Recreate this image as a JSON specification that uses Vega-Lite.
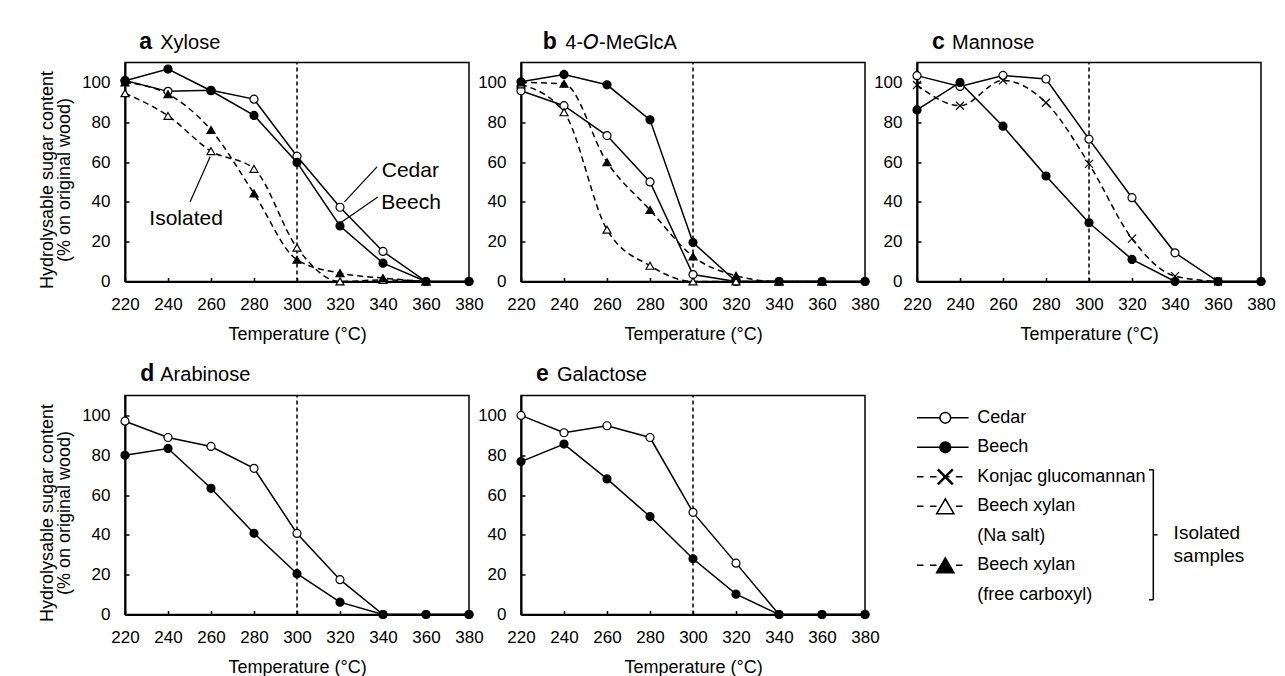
{
  "$schema": "https://vega.github.io/schema/vega-lite/v6.json",
  "background": "white",
  "padding": {"left": 37, "top": 29.5, "right": 5, "bottom": 5},
  "config": {
    "font": "Liberation Sans",
    "view": {"stroke": "black", "strokeWidth": 1.5},
    "axis": {"grid": false, "domainColor": "black", "domainWidth": 2, "tickColor": "black", "tickSize": -4, "tickWidth": 1.5, "labelColor": "black", "labelFontSize": 17, "labelFont": "Liberation Sans", "titleFont": "Liberation Sans", "titleColor": "black", "titleFontSize": 18, "titleFontWeight": "normal", "titleLineHeight": 17.6, "labelFlush": false, "labelOverlap": false, "labelBound": false},
    "axisX": {"labelPadding": 19, "titlePadding": 13},
    "axisY": {"labelPadding": 19, "titlePadding": 8, "titleY": 117}
  },
  "datasets": {
    "sugar": [
      {"panel": "a", "sample": "Cedar", "temp": 220, "value": 101},
      {"panel": "a", "sample": "Cedar", "temp": 240, "value": 95.5},
      {"panel": "a", "sample": "Cedar", "temp": 260, "value": 96},
      {"panel": "a", "sample": "Cedar", "temp": 280, "value": 91.6},
      {"panel": "a", "sample": "Cedar", "temp": 300, "value": 62.9},
      {"panel": "a", "sample": "Cedar", "temp": 320, "value": 37.3},
      {"panel": "a", "sample": "Cedar", "temp": 340, "value": 15.1},
      {"panel": "a", "sample": "Cedar", "temp": 360, "value": 0},
      {"panel": "a", "sample": "Cedar", "temp": 380, "value": 0},
      {"panel": "a", "sample": "Beech", "temp": 220, "value": 100.8},
      {"panel": "a", "sample": "Beech", "temp": 240, "value": 106.7},
      {"panel": "a", "sample": "Beech", "temp": 260, "value": 95.8},
      {"panel": "a", "sample": "Beech", "temp": 280, "value": 83.4},
      {"panel": "a", "sample": "Beech", "temp": 300, "value": 59.8},
      {"panel": "a", "sample": "Beech", "temp": 320, "value": 27.9},
      {"panel": "a", "sample": "Beech", "temp": 340, "value": 9.2},
      {"panel": "a", "sample": "Beech", "temp": 360, "value": 0},
      {"panel": "a", "sample": "Beech", "temp": 380, "value": 0},
      {"panel": "a", "sample": "Beech xylan (Na salt)", "temp": 220, "value": 94.6},
      {"panel": "a", "sample": "Beech xylan (Na salt)", "temp": 240, "value": 83.2},
      {"panel": "a", "sample": "Beech xylan (Na salt)", "temp": 260, "value": 65.5},
      {"panel": "a", "sample": "Beech xylan (Na salt)", "temp": 280, "value": 56.6},
      {"panel": "a", "sample": "Beech xylan (Na salt)", "temp": 300, "value": 17},
      {"panel": "a", "sample": "Beech xylan (Na salt)", "temp": 320, "value": 0},
      {"panel": "a", "sample": "Beech xylan (Na salt)", "temp": 340, "value": 0.8},
      {"panel": "a", "sample": "Beech xylan (Na salt)", "temp": 360, "value": 0},
      {"panel": "a", "sample": "Beech xylan (free carboxyl)", "temp": 220, "value": 100},
      {"panel": "a", "sample": "Beech xylan (free carboxyl)", "temp": 240, "value": 94.1},
      {"panel": "a", "sample": "Beech xylan (free carboxyl)", "temp": 260, "value": 76.1},
      {"panel": "a", "sample": "Beech xylan (free carboxyl)", "temp": 280, "value": 44.2},
      {"panel": "a", "sample": "Beech xylan (free carboxyl)", "temp": 300, "value": 10.9},
      {"panel": "a", "sample": "Beech xylan (free carboxyl)", "temp": 320, "value": 4.2},
      {"panel": "a", "sample": "Beech xylan (free carboxyl)", "temp": 340, "value": 1.7},
      {"panel": "a", "sample": "Beech xylan (free carboxyl)", "temp": 360, "value": 0},
      {"panel": "b", "sample": "Cedar", "temp": 220, "value": 95.8},
      {"panel": "b", "sample": "Cedar", "temp": 240, "value": 88.3},
      {"panel": "b", "sample": "Cedar", "temp": 260, "value": 73.3},
      {"panel": "b", "sample": "Cedar", "temp": 280, "value": 50},
      {"panel": "b", "sample": "Cedar", "temp": 300, "value": 3.5},
      {"panel": "b", "sample": "Cedar", "temp": 320, "value": 0},
      {"panel": "b", "sample": "Cedar", "temp": 340, "value": 0},
      {"panel": "b", "sample": "Cedar", "temp": 360, "value": 0},
      {"panel": "b", "sample": "Cedar", "temp": 380, "value": 0},
      {"panel": "b", "sample": "Beech", "temp": 220, "value": 100.3},
      {"panel": "b", "sample": "Beech", "temp": 240, "value": 104},
      {"panel": "b", "sample": "Beech", "temp": 260, "value": 98.8},
      {"panel": "b", "sample": "Beech", "temp": 280, "value": 81.2},
      {"panel": "b", "sample": "Beech", "temp": 300, "value": 19.6},
      {"panel": "b", "sample": "Beech", "temp": 320, "value": 0},
      {"panel": "b", "sample": "Beech", "temp": 340, "value": 0},
      {"panel": "b", "sample": "Beech", "temp": 360, "value": 0},
      {"panel": "b", "sample": "Beech", "temp": 380, "value": 0},
      {"panel": "b", "sample": "Beech xylan (Na salt)", "temp": 220, "value": 99},
      {"panel": "b", "sample": "Beech xylan (Na salt)", "temp": 240, "value": 85},
      {"panel": "b", "sample": "Beech xylan (Na salt)", "temp": 260, "value": 26},
      {"panel": "b", "sample": "Beech xylan (Na salt)", "temp": 280, "value": 7.9},
      {"panel": "b", "sample": "Beech xylan (Na salt)", "temp": 300, "value": 0},
      {"panel": "b", "sample": "Beech xylan (Na salt)", "temp": 320, "value": 0},
      {"panel": "b", "sample": "Beech xylan (Na salt)", "temp": 340, "value": 0},
      {"panel": "b", "sample": "Beech xylan (Na salt)", "temp": 360, "value": 0},
      {"panel": "b", "sample": "Beech xylan (free carboxyl)", "temp": 220, "value": 100},
      {"panel": "b", "sample": "Beech xylan (free carboxyl)", "temp": 240, "value": 99.3},
      {"panel": "b", "sample": "Beech xylan (free carboxyl)", "temp": 260, "value": 59.9},
      {"panel": "b", "sample": "Beech xylan (free carboxyl)", "temp": 280, "value": 35.9},
      {"panel": "b", "sample": "Beech xylan (free carboxyl)", "temp": 300, "value": 12.6},
      {"panel": "b", "sample": "Beech xylan (free carboxyl)", "temp": 320, "value": 2.9},
      {"panel": "b", "sample": "Beech xylan (free carboxyl)", "temp": 340, "value": 0},
      {"panel": "b", "sample": "Beech xylan (free carboxyl)", "temp": 360, "value": 0},
      {"panel": "c", "sample": "Cedar", "temp": 220, "value": 103.4},
      {"panel": "c", "sample": "Cedar", "temp": 240, "value": 98},
      {"panel": "c", "sample": "Cedar", "temp": 260, "value": 103.5},
      {"panel": "c", "sample": "Cedar", "temp": 280, "value": 101.7},
      {"panel": "c", "sample": "Cedar", "temp": 300, "value": 71.5},
      {"panel": "c", "sample": "Cedar", "temp": 320, "value": 42.1},
      {"panel": "c", "sample": "Cedar", "temp": 340, "value": 14.4},
      {"panel": "c", "sample": "Cedar", "temp": 360, "value": 0},
      {"panel": "c", "sample": "Cedar", "temp": 380, "value": 0},
      {"panel": "c", "sample": "Beech", "temp": 220, "value": 86.2},
      {"panel": "c", "sample": "Beech", "temp": 240, "value": 100},
      {"panel": "c", "sample": "Beech", "temp": 260, "value": 78},
      {"panel": "c", "sample": "Beech", "temp": 280, "value": 53},
      {"panel": "c", "sample": "Beech", "temp": 300, "value": 29.5},
      {"panel": "c", "sample": "Beech", "temp": 320, "value": 11.1},
      {"panel": "c", "sample": "Beech", "temp": 340, "value": 0},
      {"panel": "c", "sample": "Beech", "temp": 360, "value": 0},
      {"panel": "c", "sample": "Beech", "temp": 380, "value": 0},
      {"panel": "c", "sample": "Konjac glucomannan", "temp": 220, "value": 98.7},
      {"panel": "c", "sample": "Konjac glucomannan", "temp": 240, "value": 88.3},
      {"panel": "c", "sample": "Konjac glucomannan", "temp": 260, "value": 101},
      {"panel": "c", "sample": "Konjac glucomannan", "temp": 280, "value": 89.8},
      {"panel": "c", "sample": "Konjac glucomannan", "temp": 300, "value": 59.1},
      {"panel": "c", "sample": "Konjac glucomannan", "temp": 320, "value": 21.5},
      {"panel": "c", "sample": "Konjac glucomannan", "temp": 340, "value": 2.7},
      {"panel": "c", "sample": "Konjac glucomannan", "temp": 360, "value": 0},
      {"panel": "d", "sample": "Cedar", "temp": 220, "value": 97.1},
      {"panel": "d", "sample": "Cedar", "temp": 240, "value": 88.9},
      {"panel": "d", "sample": "Cedar", "temp": 260, "value": 84.4},
      {"panel": "d", "sample": "Cedar", "temp": 280, "value": 73.4},
      {"panel": "d", "sample": "Cedar", "temp": 300, "value": 40.7},
      {"panel": "d", "sample": "Cedar", "temp": 320, "value": 17.5},
      {"panel": "d", "sample": "Cedar", "temp": 340, "value": 0},
      {"panel": "d", "sample": "Cedar", "temp": 360, "value": 0},
      {"panel": "d", "sample": "Cedar", "temp": 380, "value": 0},
      {"panel": "d", "sample": "Beech", "temp": 220, "value": 80},
      {"panel": "d", "sample": "Beech", "temp": 240, "value": 83.4},
      {"panel": "d", "sample": "Beech", "temp": 260, "value": 63.4},
      {"panel": "d", "sample": "Beech", "temp": 280, "value": 40.8},
      {"panel": "d", "sample": "Beech", "temp": 300, "value": 20.5},
      {"panel": "d", "sample": "Beech", "temp": 320, "value": 6.2},
      {"panel": "d", "sample": "Beech", "temp": 340, "value": 0},
      {"panel": "d", "sample": "Beech", "temp": 360, "value": 0},
      {"panel": "d", "sample": "Beech", "temp": 380, "value": 0},
      {"panel": "e", "sample": "Cedar", "temp": 220, "value": 100},
      {"panel": "e", "sample": "Cedar", "temp": 240, "value": 91.3},
      {"panel": "e", "sample": "Cedar", "temp": 260, "value": 94.8},
      {"panel": "e", "sample": "Cedar", "temp": 280, "value": 88.9},
      {"panel": "e", "sample": "Cedar", "temp": 300, "value": 51.3},
      {"panel": "e", "sample": "Cedar", "temp": 320, "value": 25.8},
      {"panel": "e", "sample": "Cedar", "temp": 340, "value": 0},
      {"panel": "e", "sample": "Cedar", "temp": 360, "value": 0},
      {"panel": "e", "sample": "Cedar", "temp": 380, "value": 0},
      {"panel": "e", "sample": "Beech", "temp": 220, "value": 76.8},
      {"panel": "e", "sample": "Beech", "temp": 240, "value": 85.6},
      {"panel": "e", "sample": "Beech", "temp": 260, "value": 68.1},
      {"panel": "e", "sample": "Beech", "temp": 280, "value": 49.2},
      {"panel": "e", "sample": "Beech", "temp": 300, "value": 28},
      {"panel": "e", "sample": "Beech", "temp": 320, "value": 10.2},
      {"panel": "e", "sample": "Beech", "temp": 340, "value": 0},
      {"panel": "e", "sample": "Beech", "temp": 360, "value": 0},
      {"panel": "e", "sample": "Beech", "temp": 380, "value": 0}
    ],
    "notes": [
      {"text": "Cedar", "temp": 339.4, "value": 55.5},
      {"text": "Beech", "temp": 339.2, "value": 39.2},
      {"text": "Isolated", "temp": 231.3, "value": 31.3}
    ],
    "leaders": [
      {"temp": 337.2, "value": 57.6, "temp2": 322.1, "value2": 40},
      {"temp": 337.6, "value": 42.5, "temp2": 320.1, "value2": 29.4},
      {"temp": 250.3, "value": 40, "temp2": 259.6, "value2": 62.7}
    ],
    "legendSymbols": [
      {"sample": "Cedar", "order": 1},
      {"sample": "Beech", "order": 2},
      {"sample": "Konjac glucomannan", "order": 3},
      {"sample": "Beech xylan (Na salt)", "order": 4},
      {"sample": "Beech xylan (free carboxyl)", "order": 6}
    ],
    "legendLabels": [
      {"label": "Cedar", "order": 1},
      {"label": "Beech", "order": 2},
      {"label": "Konjac glucomannan", "order": 3},
      {"label": "Beech xylan", "order": 4},
      {"label": "(Na salt)", "order": 5},
      {"label": "Beech xylan", "order": 6},
      {"label": "(free carboxyl)", "order": 7}
    ]
  },
  "vconcat": [
    {
      "hconcat": [
        {
          "width": 344, "height": 219,
          "layer": [
            {"data": {"values": [{}]}, "mark": {"type": "rule", "color": "black", "strokeWidth": 1.5, "strokeDash": [4, 3]},
             "encoding": {"x": {"datum": 300, "type": "quantitative", "scale": {"domain": [220, 380], "nice": false, "zero": false}, "axis": {"values": [220, 240, 260, 280, 300, 320, 340, 360, 380], "title": "Temperature (°C)"}}, "y": {"datum": 0, "type": "quantitative", "scale": {"domain": [0, 110], "nice": false}, "axis": {"values": [0, 20, 40, 60, 80, 100], "title": ["Hydrolysable sugar content", "(% on original wood)"]}}, "y2": {"datum": 110}}},
            {
              "encoding": {
                "x": {"field": "temp", "type": "quantitative", "scale": {"domain": [220, 380], "nice": false, "zero": false}, "axis": {"values": [220, 240, 260, 280, 300, 320, 340, 360, 380], "title": "Temperature (°C)"}},
                "y": {"field": "value", "type": "quantitative", "scale": {"domain": [0, 110], "nice": false}, "axis": {"values": [0, 20, 40, 60, 80, 100], "title": ["Hydrolysable sugar content", "(% on original wood)"]}}
              },
              "layer": [
                {"data": {"name": "sugar"}, "transform": [{"filter": "datum.panel === 'a' && (datum.sample === 'Cedar' || datum.sample === 'Beech')"}], "mark": {"type": "line", "color": "black", "strokeWidth": 1.5}, "encoding": {"detail": {"field": "sample"}}},
                {"data": {"name": "sugar"}, "transform": [{"filter": "datum.panel === 'a' && datum.sample !== 'Cedar' && datum.sample !== 'Beech'"}], "mark": {"type": "line", "color": "black", "strokeWidth": 1.5, "strokeDash": [6, 4], "interpolate": "monotone"}, "encoding": {"detail": {"field": "sample"}}},
                {"data": {"name": "sugar"}, "transform": [{"filter": "datum.panel === 'a'"}], "mark": {"type": "point", "filled": true, "stroke": "black", "strokeWidth": 1.2, "opacity": 1},
                 "encoding": {
                   "shape": {"field": "sample", "type": "nominal", "scale": {"domain": ["Cedar", "Beech", "Konjac glucomannan", "Beech xylan (Na salt)", "Beech xylan (free carboxyl)"], "range": ["circle", "circle", "M-1,-1L1,1M-1,1L1,-1", "triangle-up", "triangle-up"]}, "legend": null},
                   "fill": {"field": "sample", "type": "nominal", "scale": {"domain": ["Cedar", "Beech", "Konjac glucomannan", "Beech xylan (Na salt)", "Beech xylan (free carboxyl)"], "range": ["white", "black", "transparent", "white", "black"]}, "legend": null},
                   "size": {"field": "sample", "type": "nominal", "scale": {"domain": ["Cedar", "Beech", "Konjac glucomannan", "Beech xylan (Na salt)", "Beech xylan (free carboxyl)"], "range": [64, 64, 100, 70, 70]}, "legend": null}
                 }},
                {"data": {"name": "notes"}, "mark": {"type": "text", "align": "left", "baseline": "middle", "fontSize": 21, "color": "black"}, "encoding": {"text": {"field": "text"}}},
                {"data": {"name": "leaders"}, "mark": {"type": "rule", "color": "black", "strokeWidth": 1.2}, "encoding": {"x2": {"field": "temp2"}, "y2": {"field": "value2"}}}
              ]
            },
            {"data": {"values": [{}]}, "mark": {"type": "text", "text": "a", "align": "left", "baseline": "alphabetic", "fontSize": 23, "fontWeight": "bold", "color": "black"},
             "encoding": {"x": {"datum": 226.65, "type": "quantitative", "axis": {"values": [220, 240, 260, 280, 300, 320, 340, 360, 380], "title": "Temperature (°C)"}}, "y": {"datum": 116.7, "type": "quantitative", "axis": {"values": [0, 20, 40, 60, 80, 100], "title": ["Hydrolysable sugar content", "(% on original wood)"]}}}},
            {"data": {"values": [{}]}, "mark": {"type": "text", "text": "Xylose", "align": "left", "baseline": "alphabetic", "fontSize": 20, "color": "black"},
             "encoding": {"x": {"datum": 236.4, "type": "quantitative", "axis": {"values": [220, 240, 260, 280, 300, 320, 340, 360, 380], "title": "Temperature (°C)"}}, "y": {"datum": 116.7, "type": "quantitative", "axis": {"values": [0, 20, 40, 60, 80, 100], "title": ["Hydrolysable sugar content", "(% on original wood)"]}}}}
          ]
        },
        {
          "width": 344, "height": 219,
          "layer": [
            {"data": {"values": [{}]}, "mark": {"type": "rule", "color": "black", "strokeWidth": 1.5, "strokeDash": [4, 3]},
             "encoding": {"x": {"datum": 300, "type": "quantitative", "scale": {"domain": [220, 380], "nice": false, "zero": false}, "axis": {"values": [220, 240, 260, 280, 300, 320, 340, 360, 380], "title": "Temperature (°C)"}}, "y": {"datum": 0, "type": "quantitative", "scale": {"domain": [0, 110], "nice": false}, "axis": {"values": [0, 20, 40, 60, 80, 100], "title": null}}, "y2": {"datum": 110}}},
            {
              "encoding": {
                "x": {"field": "temp", "type": "quantitative", "scale": {"domain": [220, 380], "nice": false, "zero": false}, "axis": {"values": [220, 240, 260, 280, 300, 320, 340, 360, 380], "title": "Temperature (°C)"}},
                "y": {"field": "value", "type": "quantitative", "scale": {"domain": [0, 110], "nice": false}, "axis": {"values": [0, 20, 40, 60, 80, 100], "title": null}}
              },
              "layer": [
                {"data": {"name": "sugar"}, "transform": [{"filter": "datum.panel === 'b' && (datum.sample === 'Cedar' || datum.sample === 'Beech')"}], "mark": {"type": "line", "color": "black", "strokeWidth": 1.5}, "encoding": {"detail": {"field": "sample"}}},
                {"data": {"name": "sugar"}, "transform": [{"filter": "datum.panel === 'b' && datum.sample !== 'Cedar' && datum.sample !== 'Beech'"}], "mark": {"type": "line", "color": "black", "strokeWidth": 1.5, "strokeDash": [6, 4], "interpolate": "monotone"}, "encoding": {"detail": {"field": "sample"}}},
                {"data": {"name": "sugar"}, "transform": [{"filter": "datum.panel === 'b'"}], "mark": {"type": "point", "filled": true, "stroke": "black", "strokeWidth": 1.2, "opacity": 1},
                 "encoding": {
                   "shape": {"field": "sample", "type": "nominal", "scale": {"domain": ["Cedar", "Beech", "Konjac glucomannan", "Beech xylan (Na salt)", "Beech xylan (free carboxyl)"], "range": ["circle", "circle", "M-1,-1L1,1M-1,1L1,-1", "triangle-up", "triangle-up"]}, "legend": null},
                   "fill": {"field": "sample", "type": "nominal", "scale": {"domain": ["Cedar", "Beech", "Konjac glucomannan", "Beech xylan (Na salt)", "Beech xylan (free carboxyl)"], "range": ["white", "black", "transparent", "white", "black"]}, "legend": null},
                   "size": {"field": "sample", "type": "nominal", "scale": {"domain": ["Cedar", "Beech", "Konjac glucomannan", "Beech xylan (Na salt)", "Beech xylan (free carboxyl)"], "range": [64, 64, 100, 70, 70]}, "legend": null}
                 }}
              ]
            },
            {"data": {"values": [{}]}, "mark": {"type": "text", "text": "b", "align": "left", "baseline": "alphabetic", "fontSize": 23, "fontWeight": "bold", "color": "black"},
             "encoding": {"x": {"datum": 230.1, "type": "quantitative", "axis": {"values": [220, 240, 260, 280, 300, 320, 340, 360, 380], "title": "Temperature (°C)"}}, "y": {"datum": 116.7, "type": "quantitative", "axis": {"values": [0, 20, 40, 60, 80, 100], "title": null}}}},
            {"data": {"values": [{}]}, "mark": {"type": "text", "text": "4-𝘖-MeGlcA", "align": "left", "baseline": "alphabetic", "fontSize": 20, "color": "black"},
             "encoding": {"x": {"datum": 240.6, "type": "quantitative", "axis": {"values": [220, 240, 260, 280, 300, 320, 340, 360, 380], "title": "Temperature (°C)"}}, "y": {"datum": 116.7, "type": "quantitative", "axis": {"values": [0, 20, 40, 60, 80, 100], "title": null}}}}
          ]
        },
        {
          "width": 344, "height": 219,
          "layer": [
            {"data": {"values": [{}]}, "mark": {"type": "rule", "color": "black", "strokeWidth": 1.5, "strokeDash": [4, 3]},
             "encoding": {"x": {"datum": 300, "type": "quantitative", "scale": {"domain": [220, 380], "nice": false, "zero": false}, "axis": {"values": [220, 240, 260, 280, 300, 320, 340, 360, 380], "title": "Temperature (°C)"}}, "y": {"datum": 0, "type": "quantitative", "scale": {"domain": [0, 110], "nice": false}, "axis": {"values": [0, 20, 40, 60, 80, 100], "title": null}}, "y2": {"datum": 110}}},
            {
              "encoding": {
                "x": {"field": "temp", "type": "quantitative", "scale": {"domain": [220, 380], "nice": false, "zero": false}, "axis": {"values": [220, 240, 260, 280, 300, 320, 340, 360, 380], "title": "Temperature (°C)"}},
                "y": {"field": "value", "type": "quantitative", "scale": {"domain": [0, 110], "nice": false}, "axis": {"values": [0, 20, 40, 60, 80, 100], "title": null}}
              },
              "layer": [
                {"data": {"name": "sugar"}, "transform": [{"filter": "datum.panel === 'c' && (datum.sample === 'Cedar' || datum.sample === 'Beech')"}], "mark": {"type": "line", "color": "black", "strokeWidth": 1.5}, "encoding": {"detail": {"field": "sample"}}},
                {"data": {"name": "sugar"}, "transform": [{"filter": "datum.panel === 'c' && datum.sample !== 'Cedar' && datum.sample !== 'Beech'"}], "mark": {"type": "line", "color": "black", "strokeWidth": 1.5, "strokeDash": [6, 4], "interpolate": "monotone"}, "encoding": {"detail": {"field": "sample"}}},
                {"data": {"name": "sugar"}, "transform": [{"filter": "datum.panel === 'c'"}], "mark": {"type": "point", "filled": true, "stroke": "black", "strokeWidth": 1.2, "opacity": 1},
                 "encoding": {
                   "shape": {"field": "sample", "type": "nominal", "scale": {"domain": ["Cedar", "Beech", "Konjac glucomannan", "Beech xylan (Na salt)", "Beech xylan (free carboxyl)"], "range": ["circle", "circle", "M-1,-1L1,1M-1,1L1,-1", "triangle-up", "triangle-up"]}, "legend": null},
                   "fill": {"field": "sample", "type": "nominal", "scale": {"domain": ["Cedar", "Beech", "Konjac glucomannan", "Beech xylan (Na salt)", "Beech xylan (free carboxyl)"], "range": ["white", "black", "transparent", "white", "black"]}, "legend": null},
                   "size": {"field": "sample", "type": "nominal", "scale": {"domain": ["Cedar", "Beech", "Konjac glucomannan", "Beech xylan (Na salt)", "Beech xylan (free carboxyl)"], "range": [64, 64, 100, 70, 70]}, "legend": null}
                 }}
              ]
            },
            {"data": {"values": [{}]}, "mark": {"type": "text", "text": "c", "align": "left", "baseline": "alphabetic", "fontSize": 23, "fontWeight": "bold", "color": "black"},
             "encoding": {"x": {"datum": 227, "type": "quantitative", "axis": {"values": [220, 240, 260, 280, 300, 320, 340, 360, 380], "title": "Temperature (°C)"}}, "y": {"datum": 116.7, "type": "quantitative", "axis": {"values": [0, 20, 40, 60, 80, 100], "title": null}}}},
            {"data": {"values": [{}]}, "mark": {"type": "text", "text": "Mannose", "align": "left", "baseline": "alphabetic", "fontSize": 20, "color": "black"},
             "encoding": {"x": {"datum": 236.3, "type": "quantitative", "axis": {"values": [220, 240, 260, 280, 300, 320, 340, 360, 380], "title": "Temperature (°C)"}}, "y": {"datum": 116.7, "type": "quantitative", "axis": {"values": [0, 20, 40, 60, 80, 100], "title": null}}}}
          ]
        }
      ],
      "spacing": 52,
      "bounds": "flush"
    },
    {
      "hconcat": [
        {
          "width": 344, "height": 219,
          "layer": [
            {"data": {"values": [{}]}, "mark": {"type": "rule", "color": "black", "strokeWidth": 1.5, "strokeDash": [4, 3]},
             "encoding": {"x": {"datum": 300, "type": "quantitative", "scale": {"domain": [220, 380], "nice": false, "zero": false}, "axis": {"values": [220, 240, 260, 280, 300, 320, 340, 360, 380], "title": "Temperature (°C)"}}, "y": {"datum": 0, "type": "quantitative", "scale": {"domain": [0, 110], "nice": false}, "axis": {"values": [0, 20, 40, 60, 80, 100], "title": ["Hydrolysable sugar content", "(% on original wood)"]}}, "y2": {"datum": 110}}},
            {
              "encoding": {
                "x": {"field": "temp", "type": "quantitative", "scale": {"domain": [220, 380], "nice": false, "zero": false}, "axis": {"values": [220, 240, 260, 280, 300, 320, 340, 360, 380], "title": "Temperature (°C)"}},
                "y": {"field": "value", "type": "quantitative", "scale": {"domain": [0, 110], "nice": false}, "axis": {"values": [0, 20, 40, 60, 80, 100], "title": ["Hydrolysable sugar content", "(% on original wood)"]}}
              },
              "layer": [
                {"data": {"name": "sugar"}, "transform": [{"filter": "datum.panel === 'd'"}], "mark": {"type": "line", "color": "black", "strokeWidth": 1.5}, "encoding": {"detail": {"field": "sample"}}},
                {"data": {"name": "sugar"}, "transform": [{"filter": "datum.panel === 'd'"}], "mark": {"type": "point", "filled": true, "stroke": "black", "strokeWidth": 1.2, "opacity": 1},
                 "encoding": {
                   "shape": {"field": "sample", "type": "nominal", "scale": {"domain": ["Cedar", "Beech", "Konjac glucomannan", "Beech xylan (Na salt)", "Beech xylan (free carboxyl)"], "range": ["circle", "circle", "M-1,-1L1,1M-1,1L1,-1", "triangle-up", "triangle-up"]}, "legend": null},
                   "fill": {"field": "sample", "type": "nominal", "scale": {"domain": ["Cedar", "Beech", "Konjac glucomannan", "Beech xylan (Na salt)", "Beech xylan (free carboxyl)"], "range": ["white", "black", "transparent", "white", "black"]}, "legend": null},
                   "size": {"field": "sample", "type": "nominal", "scale": {"domain": ["Cedar", "Beech", "Konjac glucomannan", "Beech xylan (Na salt)", "Beech xylan (free carboxyl)"], "range": [64, 64, 100, 70, 70]}, "legend": null}
                 }}
              ]
            },
            {"data": {"values": [{}]}, "mark": {"type": "text", "text": "d", "align": "left", "baseline": "alphabetic", "fontSize": 23, "fontWeight": "bold", "color": "black"},
             "encoding": {"x": {"datum": 227.1, "type": "quantitative", "axis": {"values": [220, 240, 260, 280, 300, 320, 340, 360, 380], "title": "Temperature (°C)"}}, "y": {"datum": 117.5, "type": "quantitative", "axis": {"values": [0, 20, 40, 60, 80, 100], "title": ["Hydrolysable sugar content", "(% on original wood)"]}}}},
            {"data": {"values": [{}]}, "mark": {"type": "text", "text": "Arabinose", "align": "left", "baseline": "alphabetic", "fontSize": 20, "color": "black"},
             "encoding": {"x": {"datum": 236.4, "type": "quantitative", "axis": {"values": [220, 240, 260, 280, 300, 320, 340, 360, 380], "title": "Temperature (°C)"}}, "y": {"datum": 117.5, "type": "quantitative", "axis": {"values": [0, 20, 40, 60, 80, 100], "title": ["Hydrolysable sugar content", "(% on original wood)"]}}}}
          ]
        },
        {
          "width": 344, "height": 219,
          "layer": [
            {"data": {"values": [{}]}, "mark": {"type": "rule", "color": "black", "strokeWidth": 1.5, "strokeDash": [4, 3]},
             "encoding": {"x": {"datum": 300, "type": "quantitative", "scale": {"domain": [220, 380], "nice": false, "zero": false}, "axis": {"values": [220, 240, 260, 280, 300, 320, 340, 360, 380], "title": "Temperature (°C)"}}, "y": {"datum": 0, "type": "quantitative", "scale": {"domain": [0, 110], "nice": false}, "axis": {"values": [0, 20, 40, 60, 80, 100], "title": null}}, "y2": {"datum": 110}}},
            {
              "encoding": {
                "x": {"field": "temp", "type": "quantitative", "scale": {"domain": [220, 380], "nice": false, "zero": false}, "axis": {"values": [220, 240, 260, 280, 300, 320, 340, 360, 380], "title": "Temperature (°C)"}},
                "y": {"field": "value", "type": "quantitative", "scale": {"domain": [0, 110], "nice": false}, "axis": {"values": [0, 20, 40, 60, 80, 100], "title": null}}
              },
              "layer": [
                {"data": {"name": "sugar"}, "transform": [{"filter": "datum.panel === 'e'"}], "mark": {"type": "line", "color": "black", "strokeWidth": 1.5}, "encoding": {"detail": {"field": "sample"}}},
                {"data": {"name": "sugar"}, "transform": [{"filter": "datum.panel === 'e'"}], "mark": {"type": "point", "filled": true, "stroke": "black", "strokeWidth": 1.2, "opacity": 1},
                 "encoding": {
                   "shape": {"field": "sample", "type": "nominal", "scale": {"domain": ["Cedar", "Beech", "Konjac glucomannan", "Beech xylan (Na salt)", "Beech xylan (free carboxyl)"], "range": ["circle", "circle", "M-1,-1L1,1M-1,1L1,-1", "triangle-up", "triangle-up"]}, "legend": null},
                   "fill": {"field": "sample", "type": "nominal", "scale": {"domain": ["Cedar", "Beech", "Konjac glucomannan", "Beech xylan (Na salt)", "Beech xylan (free carboxyl)"], "range": ["white", "black", "transparent", "white", "black"]}, "legend": null},
                   "size": {"field": "sample", "type": "nominal", "scale": {"domain": ["Cedar", "Beech", "Konjac glucomannan", "Beech xylan (Na salt)", "Beech xylan (free carboxyl)"], "range": [64, 64, 100, 70, 70]}, "legend": null}
                 }}
              ]
            },
            {"data": {"values": [{}]}, "mark": {"type": "text", "text": "e", "align": "left", "baseline": "alphabetic", "fontSize": 23, "fontWeight": "bold", "color": "black"},
             "encoding": {"x": {"datum": 227, "type": "quantitative", "axis": {"values": [220, 240, 260, 280, 300, 320, 340, 360, 380], "title": "Temperature (°C)"}}, "y": {"datum": 117.5, "type": "quantitative", "axis": {"values": [0, 20, 40, 60, 80, 100], "title": null}}}},
            {"data": {"values": [{}]}, "mark": {"type": "text", "text": "Galactose", "align": "left", "baseline": "alphabetic", "fontSize": 20, "color": "black"},
             "encoding": {"x": {"datum": 236.7, "type": "quantitative", "axis": {"values": [220, 240, 260, 280, 300, 320, 340, 360, 380], "title": "Temperature (°C)"}}, "y": {"datum": 117.5, "type": "quantitative", "axis": {"values": [0, 20, 40, 60, 80, 100], "title": null}}}}
          ]
        },
        {
          "width": 344, "height": 219,
          "view": {"stroke": null},
          "layer": [
            {"data": {"name": "legendSymbols"}, "transform": [{"filter": "datum.order <= 2"}], "mark": {"type": "rule", "color": "black", "strokeWidth": 1.5},
             "encoding": {"x": {"datum": 0, "type": "quantitative", "scale": {"domain": [0, 34.4], "nice": false, "zero": false}, "axis": null}, "x2": {"datum": 5.16}, "y": {"field": "order", "type": "quantitative", "scale": {"domain": [0.244, 7.668], "nice": false, "zero": false, "reverse": true}, "axis": null}}},
            {"data": {"name": "legendSymbols"}, "transform": [{"filter": "datum.order >= 3"}], "mark": {"type": "rule", "color": "black", "strokeWidth": 1.5, "strokeDash": [6.5, 6.5]},
             "encoding": {"x": {"datum": 0, "type": "quantitative", "axis": null}, "x2": {"datum": 5.16}, "y": {"field": "order", "type": "quantitative", "axis": null}}},
            {"data": {"name": "legendSymbols"}, "transform": [{"filter": "datum.order <= 2"}], "mark": {"type": "point", "shape": "circle", "size": 115, "filled": true, "stroke": "black", "strokeWidth": 1.5, "opacity": 1},
             "encoding": {"x": {"datum": 2.83, "type": "quantitative", "axis": null}, "y": {"field": "order", "type": "quantitative", "axis": null},
               "fill": {"field": "sample", "type": "nominal", "scale": {"domain": ["Cedar", "Beech", "Konjac glucomannan", "Beech xylan (Na salt)", "Beech xylan (free carboxyl)"], "range": ["white", "black", "transparent", "white", "black"]}, "legend": null}}},
            {"data": {"name": "legendSymbols"}, "transform": [{"filter": "datum.order == 3"}], "mark": {"type": "point", "shape": "M-1,-1L1,1M-1,1L1,-1", "size": 225, "filled": false, "stroke": "black", "strokeWidth": 2.5, "opacity": 1},
             "encoding": {"x": {"datum": 2.83, "type": "quantitative", "axis": null}, "y": {"field": "order", "type": "quantitative", "axis": null}}},
            {"data": {"name": "legendSymbols"}, "transform": [{"filter": "datum.order >= 4"}], "mark": {"type": "point", "shape": "triangle-up", "size": 300, "filled": true, "stroke": "black", "strokeWidth": 1.5, "opacity": 1},
             "encoding": {"x": {"datum": 2.83, "type": "quantitative", "axis": null}, "y": {"field": "order", "type": "quantitative", "axis": null},
               "fill": {"field": "sample", "type": "nominal", "scale": {"domain": ["Cedar", "Beech", "Konjac glucomannan", "Beech xylan (Na salt)", "Beech xylan (free carboxyl)"], "range": ["white", "black", "transparent", "white", "black"]}, "legend": null}}},
            {"data": {"name": "legendLabels"}, "mark": {"type": "text", "align": "left", "baseline": "middle", "fontSize": 18, "color": "black"},
             "encoding": {"x": {"datum": 6.03, "type": "quantitative", "axis": null}, "y": {"field": "order", "type": "quantitative", "axis": null}, "text": {"field": "label"}}},
            {"data": {"values": [{}]}, "mark": {"type": "rule", "color": "black", "strokeWidth": 1.5},
             "encoding": {"x": {"datum": 23.63, "type": "quantitative", "axis": null}, "y": {"datum": 2.763, "type": "quantitative", "axis": null}, "y2": {"datum": 7.17}}},
            {"data": {"values": [{}]}, "mark": {"type": "rule", "color": "black", "strokeWidth": 1.5},
             "encoding": {"x": {"datum": 23.2, "type": "quantitative", "axis": null}, "x2": {"datum": 23.63}, "y": {"datum": 2.763, "type": "quantitative", "axis": null}}},
            {"data": {"values": [{}]}, "mark": {"type": "rule", "color": "black", "strokeWidth": 1.5},
             "encoding": {"x": {"datum": 23.2, "type": "quantitative", "axis": null}, "x2": {"datum": 23.63}, "y": {"datum": 7.17, "type": "quantitative", "axis": null}}},
            {"data": {"values": [{}]}, "mark": {"type": "rule", "color": "black", "strokeWidth": 1.5},
             "encoding": {"x": {"datum": 23.63, "type": "quantitative", "axis": null}, "x2": {"datum": 24.05}, "y": {"datum": 4.966, "type": "quantitative", "axis": null}}},
            {"data": {"values": [{}]}, "mark": {"type": "text", "align": "left", "baseline": "middle", "fontSize": 19, "lineHeight": 23.3, "color": "black"},
             "encoding": {"x": {"datum": 25.66, "type": "quantitative", "axis": null}, "y": {"datum": 4.91, "type": "quantitative", "axis": null}, "text": {"value": ["Isolated", "samples"]}}}
          ]
        }
      ],
      "spacing": 52,
      "bounds": "flush"
    }
  ],
  "spacing": 17
}
